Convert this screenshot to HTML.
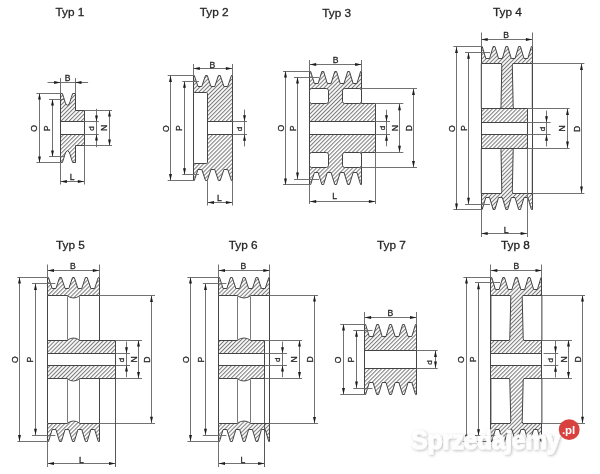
<!DOCTYPE html>
<html><head><meta charset="utf-8"><title>Pulleys</title>
<style>
html,body{margin:0;padding:0;background:#fff;width:600px;height:474px;overflow:hidden;}
svg{display:block;font-family:"Liberation Sans",sans-serif;filter:blur(0.35px);}
</style></head><body>
<svg width="600" height="474" viewBox="0 0 600 474" font-family="Liberation Sans, sans-serif">
<defs>
<pattern id="h" patternUnits="userSpaceOnUse" width="2.85" height="2.85" patternTransform="rotate(45)">
<rect width="2.85" height="2.85" fill="#fff"/>
<line x1="0.5" y1="0" x2="0.5" y2="2.85" stroke="#7c7c7c" stroke-width="1.12"/>
</pattern>
<filter id="sh" x="-10%" y="-30%" width="120%" height="160%">
<feGaussianBlur in="SourceAlpha" stdDeviation="1.4"/>
<feOffset dx="0.6" dy="1.3" result="b"/>
<feFlood flood-color="#000" flood-opacity="0.3"/>
<feComposite in2="b" operator="in"/>
<feMerge><feMergeNode/><feMergeNode in="SourceGraphic"/></feMerge>
</filter>
</defs>
<rect width="600" height="474" fill="#fff"/>
<path d="M60.5 93.5 L62.4 93.5 L63.7 97.5 L64.9 101.6 L66 104.3 L67.5 105.3 L69 104.3 L70.1 101.6 L71.3 97.5 L72.7 93.5 L75.5 93.5 L75.5 110.5 L84.5 110.5 L84.5 145.5 L75.5 145.5 L75.5 162.5 L72.7 162.5 L71.3 158.5 L70.1 154.4 L69 151.7 L67.5 150.7 L66 151.7 L64.9 154.4 L63.7 158.5 L62.4 162.5 L60.5 162.5 Z" fill="url(#h)" stroke="#444444" stroke-width="1.0" stroke-linejoin="round" />
<rect x="60.5" y="121.5" width="24" height="13" rx="0" fill="#fff" stroke="#444444" stroke-width="1.0"/>
<line x1="60.5" y1="78" x2="60.5" y2="93" stroke="#6a6a6a" stroke-width="0.95"/>
<line x1="75.5" y1="78" x2="75.5" y2="93" stroke="#6a6a6a" stroke-width="0.95"/>
<line x1="47.5" y1="82.5" x2="88.1" y2="82.5" stroke="#6a6a6a" stroke-width="0.95"/>
<path d="M60.5 82.5 L54.1 81.05 L54.1 83.95 Z" fill="#1c1c1c"/>
<path d="M75.1 82.5 L81.5 81.05 L81.5 83.95 Z" fill="#1c1c1c"/>
<line x1="36.4" y1="93.5" x2="60.5" y2="93.5" stroke="#6a6a6a" stroke-width="0.95"/>
<line x1="36.4" y1="162.5" x2="60.5" y2="162.5" stroke="#6a6a6a" stroke-width="0.95"/>
<line x1="39.5" y1="93.2" x2="39.5" y2="162.8" stroke="#6a6a6a" stroke-width="0.95"/>
<path d="M39.5 93.2 L38.05 99.6 L40.95 99.6 Z" fill="#1c1c1c"/>
<path d="M39.5 162.8 L38.05 156.4 L40.95 156.4 Z" fill="#1c1c1c"/>
<line x1="49" y1="99.5" x2="64" y2="99.5" stroke="#6a6a6a" stroke-width="0.95"/>
<line x1="49" y1="156.5" x2="64" y2="156.5" stroke="#6a6a6a" stroke-width="0.95"/>
<line x1="52.5" y1="99.2" x2="52.5" y2="156.8" stroke="#6a6a6a" stroke-width="0.95"/>
<path d="M52.5 99.2 L51.05 105.6 L53.95 105.6 Z" fill="#1c1c1c"/>
<path d="M52.5 156.8 L51.05 150.4 L53.95 150.4 Z" fill="#1c1c1c"/>
<line x1="84.2" y1="121.5" x2="98.8" y2="121.5" stroke="#6a6a6a" stroke-width="0.95"/>
<line x1="84.2" y1="134.5" x2="98.8" y2="134.5" stroke="#6a6a6a" stroke-width="0.95"/>
<line x1="96.5" y1="108.8" x2="96.5" y2="147.2" stroke="#6a6a6a" stroke-width="0.95"/>
<path d="M96.5 121.8 L95.05 115.4 L97.95 115.4 Z" fill="#1c1c1c"/>
<path d="M96.5 134.2 L95.05 140.6 L97.95 140.6 Z" fill="#1c1c1c"/>
<line x1="84.2" y1="110.5" x2="112" y2="110.5" stroke="#6a6a6a" stroke-width="0.95"/>
<line x1="84.2" y1="145.5" x2="112" y2="145.5" stroke="#6a6a6a" stroke-width="0.95"/>
<line x1="109.5" y1="110.2" x2="109.5" y2="145.8" stroke="#6a6a6a" stroke-width="0.95"/>
<path d="M109.5 110.2 L108.05 116.6 L110.95 116.6 Z" fill="#1c1c1c"/>
<path d="M109.5 145.8 L108.05 139.4 L110.95 139.4 Z" fill="#1c1c1c"/>
<line x1="60.5" y1="163" x2="60.5" y2="184.5" stroke="#6a6a6a" stroke-width="0.95"/>
<line x1="84.5" y1="146" x2="84.5" y2="184.5" stroke="#6a6a6a" stroke-width="0.95"/>
<line x1="60.5" y1="181.5" x2="84.2" y2="181.5" stroke="#6a6a6a" stroke-width="0.95"/>
<path d="M60.5 181.5 L66.9 180.05 L66.9 182.95 Z" fill="#1c1c1c"/>
<path d="M84.2 181.5 L77.8 180.05 L77.8 182.95 Z" fill="#1c1c1c"/>
<path d="M193.5 75.5 L194.3 75.5 L197.98 86.5 L201.78 86.5 L205.47 75.5 L207.27 75.5 L210.95 86.5 L214.75 86.5 L218.43 75.5 L220.23 75.5 L223.92 86.5 L227.72 86.5 L231.4 75.5 L232.5 75.5 L232.5 180.5 L231.4 180.5 L227.72 169.5 L223.92 169.5 L220.23 180.5 L218.43 180.5 L214.75 169.5 L210.95 169.5 L207.27 180.5 L205.47 180.5 L201.78 169.5 L197.98 169.5 L194.3 180.5 L193.5 180.5 Z" fill="url(#h)" stroke="#444444" stroke-width="1.0" stroke-linejoin="round" />
<rect x="193.5" y="92.5" width="14" height="71" rx="1.2" fill="#fff" stroke="#444444" stroke-width="1.0"/>
<rect x="207.5" y="121.5" width="25" height="13" rx="0" fill="#fff" stroke="#444444" stroke-width="1.0"/>
<line x1="193.5" y1="64" x2="193.5" y2="75.8" stroke="#6a6a6a" stroke-width="0.95"/>
<line x1="232.5" y1="64" x2="232.5" y2="75.8" stroke="#6a6a6a" stroke-width="0.95"/>
<line x1="193.4" y1="68.5" x2="232.3" y2="68.5" stroke="#6a6a6a" stroke-width="0.95"/>
<path d="M193.4 68.5 L199.8 67.05 L199.8 69.95 Z" fill="#1c1c1c"/>
<path d="M232.3 68.5 L225.9 67.05 L225.9 69.95 Z" fill="#1c1c1c"/>
<line x1="167.7" y1="75.5" x2="193.4" y2="75.5" stroke="#6a6a6a" stroke-width="0.95"/>
<line x1="167.7" y1="180.5" x2="193.4" y2="180.5" stroke="#6a6a6a" stroke-width="0.95"/>
<line x1="170.5" y1="75.5" x2="170.5" y2="180.5" stroke="#6a6a6a" stroke-width="0.95"/>
<path d="M170.5 75.5 L169.05 81.9 L171.95 81.9 Z" fill="#1c1c1c"/>
<path d="M170.5 180.5 L169.05 174.1 L171.95 174.1 Z" fill="#1c1c1c"/>
<line x1="182.4" y1="81.5" x2="199" y2="81.5" stroke="#6a6a6a" stroke-width="0.95"/>
<line x1="182.4" y1="174.5" x2="199" y2="174.5" stroke="#6a6a6a" stroke-width="0.95"/>
<line x1="184.5" y1="81.3" x2="184.5" y2="174.7" stroke="#6a6a6a" stroke-width="0.95"/>
<path d="M184.5 81.3 L183.05 87.7 L185.95 87.7 Z" fill="#1c1c1c"/>
<path d="M184.5 174.7 L183.05 168.3 L185.95 168.3 Z" fill="#1c1c1c"/>
<line x1="232.3" y1="121.5" x2="247" y2="121.5" stroke="#6a6a6a" stroke-width="0.95"/>
<line x1="232.3" y1="134.5" x2="247" y2="134.5" stroke="#6a6a6a" stroke-width="0.95"/>
<line x1="244.5" y1="109.6" x2="244.5" y2="146.4" stroke="#6a6a6a" stroke-width="0.95"/>
<path d="M244.5 121.6 L243.05 115.2 L245.95 115.2 Z" fill="#1c1c1c"/>
<path d="M244.5 134.4 L243.05 140.8 L245.95 140.8 Z" fill="#1c1c1c"/>
<line x1="207.5" y1="180.5" x2="207.5" y2="205.5" stroke="#6a6a6a" stroke-width="0.95"/>
<line x1="232.5" y1="180.5" x2="232.5" y2="205.5" stroke="#6a6a6a" stroke-width="0.95"/>
<line x1="207.6" y1="202.5" x2="232.3" y2="202.5" stroke="#6a6a6a" stroke-width="0.95"/>
<path d="M207.6 202.5 L214 201.05 L214 203.95 Z" fill="#1c1c1c"/>
<path d="M232.3 202.5 L225.9 201.05 L225.9 203.95 Z" fill="#1c1c1c"/>
<path d="M309.5 71.5 L310.7 71.5 L314.36 83.5 L318.16 83.5 L321.82 71.5 L323.62 71.5 L327.29 83.5 L331.09 83.5 L334.75 71.5 L336.55 71.5 L340.21 83.5 L344.01 83.5 L347.68 71.5 L349.48 71.5 L353.14 83.5 L356.94 83.5 L360.6 71.5 L361.5 71.5 L361.5 103.5 L375.5 103.5 L375.5 152.5 L361.5 152.5 L361.5 184.5 L360.6 184.5 L356.94 172.5 L353.14 172.5 L349.48 184.5 L347.68 184.5 L344.01 172.5 L340.21 172.5 L336.55 184.5 L334.75 184.5 L331.09 172.5 L327.29 172.5 L323.62 184.5 L321.82 184.5 L318.16 172.5 L314.36 172.5 L310.7 184.5 L309.5 184.5 Z" fill="url(#h)" stroke="#444444" stroke-width="1.0" stroke-linejoin="round" />
<rect x="309.5" y="88.5" width="19" height="15" rx="2.2" fill="#fff" stroke="#444444" stroke-width="1.0"/>
<rect x="309.5" y="152.5" width="19" height="15" rx="2.2" fill="#fff" stroke="#444444" stroke-width="1.0"/>
<rect x="342.5" y="88.5" width="19" height="15" rx="2.2" fill="#fff" stroke="#444444" stroke-width="1.0"/>
<rect x="342.5" y="152.5" width="19" height="15" rx="2.2" fill="#fff" stroke="#444444" stroke-width="1.0"/>
<rect x="309.5" y="121.5" width="66" height="13" rx="0" fill="#fff" stroke="#444444" stroke-width="1.0"/>
<line x1="309.5" y1="60" x2="309.5" y2="71" stroke="#6a6a6a" stroke-width="0.95"/>
<line x1="361.5" y1="60" x2="361.5" y2="71" stroke="#6a6a6a" stroke-width="0.95"/>
<line x1="309.8" y1="64.5" x2="361.5" y2="64.5" stroke="#6a6a6a" stroke-width="0.95"/>
<path d="M309.8 64.5 L316.2 63.05 L316.2 65.95 Z" fill="#1c1c1c"/>
<path d="M361.5 64.5 L355.1 63.05 L355.1 65.95 Z" fill="#1c1c1c"/>
<line x1="283" y1="71.5" x2="309.8" y2="71.5" stroke="#6a6a6a" stroke-width="0.95"/>
<line x1="283" y1="184.5" x2="309.8" y2="184.5" stroke="#6a6a6a" stroke-width="0.95"/>
<line x1="285.5" y1="71.1" x2="285.5" y2="184.9" stroke="#6a6a6a" stroke-width="0.95"/>
<path d="M285.5 71.1 L284.05 77.5 L286.95 77.5 Z" fill="#1c1c1c"/>
<path d="M285.5 184.9 L284.05 178.5 L286.95 178.5 Z" fill="#1c1c1c"/>
<line x1="294" y1="77.5" x2="319" y2="77.5" stroke="#6a6a6a" stroke-width="0.95"/>
<line x1="294" y1="179.5" x2="319" y2="179.5" stroke="#6a6a6a" stroke-width="0.95"/>
<line x1="297.5" y1="77" x2="297.5" y2="179" stroke="#6a6a6a" stroke-width="0.95"/>
<path d="M297.5 77 L296.05 83.4 L298.95 83.4 Z" fill="#1c1c1c"/>
<path d="M297.5 179 L296.05 172.6 L298.95 172.6 Z" fill="#1c1c1c"/>
<line x1="361.5" y1="88.5" x2="417" y2="88.5" stroke="#6a6a6a" stroke-width="0.95"/>
<line x1="361.5" y1="167.5" x2="417" y2="167.5" stroke="#6a6a6a" stroke-width="0.95"/>
<line x1="413.5" y1="88.6" x2="413.5" y2="167.4" stroke="#6a6a6a" stroke-width="0.95"/>
<path d="M413.5 88.6 L412.05 95 L414.95 95 Z" fill="#1c1c1c"/>
<path d="M413.5 167.4 L412.05 161 L414.95 161 Z" fill="#1c1c1c"/>
<line x1="375.3" y1="103.5" x2="403.3" y2="103.5" stroke="#6a6a6a" stroke-width="0.95"/>
<line x1="375.3" y1="152.5" x2="403.3" y2="152.5" stroke="#6a6a6a" stroke-width="0.95"/>
<line x1="399.5" y1="103.8" x2="399.5" y2="152.2" stroke="#6a6a6a" stroke-width="0.95"/>
<path d="M399.5 103.8 L398.05 110.2 L400.95 110.2 Z" fill="#1c1c1c"/>
<path d="M399.5 152.2 L398.05 145.8 L400.95 145.8 Z" fill="#1c1c1c"/>
<line x1="375.3" y1="121.5" x2="390" y2="121.5" stroke="#6a6a6a" stroke-width="0.95"/>
<line x1="375.3" y1="134.5" x2="390" y2="134.5" stroke="#6a6a6a" stroke-width="0.95"/>
<line x1="386.5" y1="109.7" x2="386.5" y2="146.3" stroke="#6a6a6a" stroke-width="0.95"/>
<path d="M386.5 121.7 L385.05 115.3 L387.95 115.3 Z" fill="#1c1c1c"/>
<path d="M386.5 134.3 L385.05 140.7 L387.95 140.7 Z" fill="#1c1c1c"/>
<line x1="309.5" y1="185" x2="309.5" y2="204" stroke="#6a6a6a" stroke-width="0.95"/>
<line x1="375.5" y1="152.2" x2="375.5" y2="204" stroke="#6a6a6a" stroke-width="0.95"/>
<line x1="309.8" y1="201.5" x2="375.3" y2="201.5" stroke="#6a6a6a" stroke-width="0.95"/>
<path d="M309.8 201.5 L316.2 200.05 L316.2 202.95 Z" fill="#1c1c1c"/>
<path d="M375.3 201.5 L368.9 200.05 L368.9 202.95 Z" fill="#1c1c1c"/>
<path d="M481.5 46.5 L482.2 46.5 L485.78 58.5 L489.57 58.5 L493.15 46.5 L494.95 46.5 L498.53 58.5 L502.32 58.5 L505.9 46.5 L507.7 46.5 L511.27 58.5 L515.07 58.5 L518.65 46.5 L520.45 46.5 L524.02 58.5 L527.82 58.5 L531.4 46.5 L532.5 46.5 L532.5 209.5 L531.4 209.5 L527.82 197.5 L524.02 197.5 L520.45 209.5 L518.65 209.5 L515.07 197.5 L511.27 197.5 L507.7 209.5 L505.9 209.5 L502.32 197.5 L498.53 197.5 L494.95 209.5 L493.15 209.5 L489.57 197.5 L485.78 197.5 L482.2 209.5 L481.5 209.5 Z" fill="url(#h)" stroke="#444444" stroke-width="1.0" stroke-linejoin="round" />
<path d="M481.3 63.5 L501.2 63.5 L501.8 65.2 L501 107 L500.4 108.5 L481.3 108.5 Z" fill="#fff" stroke="#444444" stroke-width="1" stroke-linejoin="round"/>
<path d="M512.9 63.5 L532.3 63.5 L532.3 108.5 L513.8 108.5 L513.2 107 L512.3 65.2 Z" fill="#fff" stroke="#444444" stroke-width="1" stroke-linejoin="round"/>
<path d="M481.3 193.5 L501.2 193.5 L501.8 191.4 L501 149.6 L500.4 148.5 L481.3 148.5 Z" fill="#fff" stroke="#444444" stroke-width="1" stroke-linejoin="round"/>
<path d="M512.9 193.5 L532.3 193.5 L532.3 148.5 L513.8 148.5 L513.2 149.6 L512.3 191.4 Z" fill="#fff" stroke="#444444" stroke-width="1" stroke-linejoin="round"/>
<rect x="527.5" y="108.5" width="5" height="40" rx="0" fill="#fff" stroke="none" stroke-width="1.0"/>
<line x1="532.5" y1="63.6" x2="532.5" y2="193" stroke="#444444" stroke-width="1.0"/>
<line x1="527.5" y1="108.6" x2="527.5" y2="148" stroke="#444444" stroke-width="1.0"/>
<line x1="481.3" y1="108.5" x2="527" y2="108.5" stroke="#444444" stroke-width="1.0"/>
<line x1="481.3" y1="148.5" x2="527" y2="148.5" stroke="#444444" stroke-width="1.0"/>
<rect x="481.5" y="122.5" width="46" height="12" rx="0" fill="#fff" stroke="#444444" stroke-width="1.0"/>
<line x1="481.5" y1="32.5" x2="481.5" y2="46.7" stroke="#6a6a6a" stroke-width="0.95"/>
<line x1="532.5" y1="32.5" x2="532.5" y2="46.7" stroke="#6a6a6a" stroke-width="0.95"/>
<line x1="481.3" y1="39.5" x2="532.3" y2="39.5" stroke="#6a6a6a" stroke-width="0.95"/>
<path d="M481.3 39.5 L487.7 38.05 L487.7 40.95 Z" fill="#1c1c1c"/>
<path d="M532.3 39.5 L525.9 38.05 L525.9 40.95 Z" fill="#1c1c1c"/>
<line x1="453.4" y1="46.5" x2="481.3" y2="46.5" stroke="#6a6a6a" stroke-width="0.95"/>
<line x1="453.4" y1="209.5" x2="481.3" y2="209.5" stroke="#6a6a6a" stroke-width="0.95"/>
<line x1="456.5" y1="46.7" x2="456.5" y2="209.9" stroke="#6a6a6a" stroke-width="0.95"/>
<path d="M456.5 46.7 L455.05 53.1 L457.95 53.1 Z" fill="#1c1c1c"/>
<path d="M456.5 209.9 L455.05 203.5 L457.95 203.5 Z" fill="#1c1c1c"/>
<line x1="465" y1="52.5" x2="490" y2="52.5" stroke="#6a6a6a" stroke-width="0.95"/>
<line x1="465" y1="204.5" x2="490" y2="204.5" stroke="#6a6a6a" stroke-width="0.95"/>
<line x1="468.5" y1="52.4" x2="468.5" y2="204.2" stroke="#6a6a6a" stroke-width="0.95"/>
<path d="M468.5 52.4 L467.05 58.8 L469.95 58.8 Z" fill="#1c1c1c"/>
<path d="M468.5 204.2 L467.05 197.8 L469.95 197.8 Z" fill="#1c1c1c"/>
<line x1="532.3" y1="63.5" x2="584.4" y2="63.5" stroke="#6a6a6a" stroke-width="0.95"/>
<line x1="532.3" y1="193.5" x2="584.4" y2="193.5" stroke="#6a6a6a" stroke-width="0.95"/>
<line x1="581.5" y1="63.6" x2="581.5" y2="193" stroke="#6a6a6a" stroke-width="0.95"/>
<path d="M581.5 63.6 L580.05 70 L582.95 70 Z" fill="#1c1c1c"/>
<path d="M581.5 193 L580.05 186.6 L582.95 186.6 Z" fill="#1c1c1c"/>
<line x1="527" y1="108.5" x2="569.6" y2="108.5" stroke="#6a6a6a" stroke-width="0.95"/>
<line x1="527" y1="148.5" x2="569.6" y2="148.5" stroke="#6a6a6a" stroke-width="0.95"/>
<line x1="567.5" y1="108.6" x2="567.5" y2="148" stroke="#6a6a6a" stroke-width="0.95"/>
<path d="M567.5 108.6 L566.05 115 L568.95 115 Z" fill="#1c1c1c"/>
<path d="M567.5 148 L566.05 141.6 L568.95 141.6 Z" fill="#1c1c1c"/>
<line x1="527" y1="122.5" x2="550.6" y2="122.5" stroke="#6a6a6a" stroke-width="0.95"/>
<line x1="527" y1="134.5" x2="550.6" y2="134.5" stroke="#6a6a6a" stroke-width="0.95"/>
<line x1="546.5" y1="110.6" x2="546.5" y2="146.4" stroke="#6a6a6a" stroke-width="0.95"/>
<path d="M546.5 122.6 L545.05 116.2 L547.95 116.2 Z" fill="#1c1c1c"/>
<path d="M546.5 134.4 L545.05 140.8 L547.95 140.8 Z" fill="#1c1c1c"/>
<line x1="481.5" y1="209.5" x2="481.5" y2="237" stroke="#6a6a6a" stroke-width="0.95"/>
<line x1="527.5" y1="148" x2="527.5" y2="237" stroke="#6a6a6a" stroke-width="0.95"/>
<line x1="481.3" y1="233.5" x2="527" y2="233.5" stroke="#6a6a6a" stroke-width="0.95"/>
<path d="M481.3 233.5 L487.7 232.05 L487.7 234.95 Z" fill="#1c1c1c"/>
<path d="M527 233.5 L520.6 232.05 L520.6 234.95 Z" fill="#1c1c1c"/>
<line x1="47.5" y1="295.5" x2="47.5" y2="423.1" stroke="#444444" stroke-width="1.0"/>
<line x1="99.5" y1="295.5" x2="99.5" y2="423.1" stroke="#444444" stroke-width="1.0"/>
<path d="M47.5 277.5 L48.5 277.5 L52.15 288.5 L55.95 288.5 L59.6 277.5 L61.4 277.5 L65.05 288.5 L68.85 288.5 L72.5 277.5 L74.3 277.5 L77.95 288.5 L81.75 288.5 L85.4 277.5 L87.2 277.5 L90.85 288.5 L94.65 288.5 L98.3 277.5 L99.5 277.5 L99.5 295.5 L47.5 295.5 Z" fill="url(#h)" stroke="#444444" stroke-width="1.0" stroke-linejoin="round" />
<path d="M47.5 441.5 L48.5 441.5 L52.15 429.5 L55.95 429.5 L59.6 441.5 L61.4 441.5 L65.05 429.5 L68.85 429.5 L72.5 441.5 L74.3 441.5 L77.95 429.5 L81.75 429.5 L85.4 441.5 L87.2 441.5 L90.85 429.5 L94.65 429.5 L98.3 441.5 L99.5 441.5 L99.5 423.5 L47.5 423.5 Z" fill="url(#h)" stroke="#444444" stroke-width="1.0" stroke-linejoin="round" />
<path d="M47.5 340.5 L115.5 340.5 L115.5 378.5 L47.5 378.5 Z" fill="url(#h)" stroke="#444444" stroke-width="1.0" stroke-linejoin="round" />
<rect x="47.5" y="353.5" width="68" height="12" rx="0" fill="#fff" stroke="#444444" stroke-width="1.0"/>
<line x1="67.5" y1="296.5" x2="67.5" y2="339.5" stroke="#6a6a6a" stroke-width="0.9"/>
<line x1="79.5" y1="296.5" x2="79.5" y2="339.5" stroke="#6a6a6a" stroke-width="0.9"/>
<path d="M66.9 294.9 L66.9 295.5 Q73.5 300.5 80.1 295.5 L80.1 294.9 Z" fill="url(#h)" stroke="none"/>
<path d="M66.9 295.5 Q73.5 300.5 80.1 295.5" fill="none" stroke="#444444" stroke-width="0.95"/>
<path d="M66.9 341.1 L66.9 340.5 Q73.5 335.5 80.1 340.5 L80.1 341.1 Z" fill="url(#h)" stroke="none"/>
<path d="M66.9 340.5 Q73.5 335.5 80.1 340.5" fill="none" stroke="#444444" stroke-width="0.95"/>
<line x1="67.5" y1="379.5" x2="67.5" y2="422.5" stroke="#6a6a6a" stroke-width="0.9"/>
<line x1="79.5" y1="379.5" x2="79.5" y2="422.5" stroke="#6a6a6a" stroke-width="0.9"/>
<path d="M66.9 377.9 L66.9 378.5 Q73.5 383.5 80.1 378.5 L80.1 377.9 Z" fill="url(#h)" stroke="none"/>
<path d="M66.9 378.5 Q73.5 383.5 80.1 378.5" fill="none" stroke="#444444" stroke-width="0.95"/>
<path d="M66.9 424.1 L66.9 423.5 Q73.5 418.5 80.1 423.5 L80.1 424.1 Z" fill="url(#h)" stroke="none"/>
<path d="M66.9 423.5 Q73.5 418.5 80.1 423.5" fill="none" stroke="#444444" stroke-width="0.95"/>
<line x1="47.5" y1="264.5" x2="47.5" y2="277.2" stroke="#6a6a6a" stroke-width="0.95"/>
<line x1="99.5" y1="264.5" x2="99.5" y2="277.2" stroke="#6a6a6a" stroke-width="0.95"/>
<line x1="47.6" y1="270.5" x2="99.2" y2="270.5" stroke="#6a6a6a" stroke-width="0.95"/>
<path d="M47.6 270.5 L54 269.05 L54 271.95 Z" fill="#1c1c1c"/>
<path d="M99.2 270.5 L92.8 269.05 L92.8 271.95 Z" fill="#1c1c1c"/>
<line x1="17.4" y1="277.5" x2="47.6" y2="277.5" stroke="#6a6a6a" stroke-width="0.95"/>
<line x1="17.4" y1="441.5" x2="47.6" y2="441.5" stroke="#6a6a6a" stroke-width="0.95"/>
<line x1="19.5" y1="277.2" x2="19.5" y2="441.4" stroke="#6a6a6a" stroke-width="0.95"/>
<path d="M19.5 277.2 L18.05 283.6 L20.95 283.6 Z" fill="#1c1c1c"/>
<path d="M19.5 441.4 L18.05 435 L20.95 435 Z" fill="#1c1c1c"/>
<line x1="32" y1="283.5" x2="55.4" y2="283.5" stroke="#6a6a6a" stroke-width="0.95"/>
<line x1="32" y1="435.5" x2="55.4" y2="435.5" stroke="#6a6a6a" stroke-width="0.95"/>
<line x1="35.5" y1="283.5" x2="35.5" y2="435.1" stroke="#6a6a6a" stroke-width="0.95"/>
<path d="M35.5 283.5 L34.05 289.9 L36.95 289.9 Z" fill="#1c1c1c"/>
<path d="M35.5 435.1 L34.05 428.7 L36.95 428.7 Z" fill="#1c1c1c"/>
<line x1="99.2" y1="295.5" x2="155" y2="295.5" stroke="#6a6a6a" stroke-width="0.95"/>
<line x1="99.2" y1="423.5" x2="155" y2="423.5" stroke="#6a6a6a" stroke-width="0.95"/>
<line x1="151.5" y1="295.5" x2="151.5" y2="423.1" stroke="#6a6a6a" stroke-width="0.95"/>
<path d="M151.5 295.5 L150.05 301.9 L152.95 301.9 Z" fill="#1c1c1c"/>
<path d="M151.5 423.1 L150.05 416.7 L152.95 416.7 Z" fill="#1c1c1c"/>
<line x1="115.4" y1="340.5" x2="142" y2="340.5" stroke="#6a6a6a" stroke-width="0.95"/>
<line x1="115.4" y1="378.5" x2="142" y2="378.5" stroke="#6a6a6a" stroke-width="0.95"/>
<line x1="138.5" y1="340.2" x2="138.5" y2="378.4" stroke="#6a6a6a" stroke-width="0.95"/>
<path d="M138.5 340.2 L137.05 346.6 L139.95 346.6 Z" fill="#1c1c1c"/>
<path d="M138.5 378.4 L137.05 372 L139.95 372 Z" fill="#1c1c1c"/>
<line x1="115.4" y1="353.5" x2="130" y2="353.5" stroke="#6a6a6a" stroke-width="0.95"/>
<line x1="115.4" y1="365.5" x2="130" y2="365.5" stroke="#6a6a6a" stroke-width="0.95"/>
<line x1="126.5" y1="341.6" x2="126.5" y2="377.2" stroke="#6a6a6a" stroke-width="0.95"/>
<path d="M126.5 353.6 L125.05 347.2 L127.95 347.2 Z" fill="#1c1c1c"/>
<path d="M126.5 365.2 L125.05 371.6 L127.95 371.6 Z" fill="#1c1c1c"/>
<line x1="47.5" y1="440.5" x2="47.5" y2="467" stroke="#6a6a6a" stroke-width="0.95"/>
<line x1="115.5" y1="378.4" x2="115.5" y2="467" stroke="#444444" stroke-width="0.9"/>
<line x1="47.6" y1="463.5" x2="115.4" y2="463.5" stroke="#6a6a6a" stroke-width="0.95"/>
<path d="M47.6 463.5 L54 462.05 L54 464.95 Z" fill="#1c1c1c"/>
<path d="M115.4 463.5 L109 462.05 L109 464.95 Z" fill="#1c1c1c"/>
<line x1="218.5" y1="295.2" x2="218.5" y2="423.4" stroke="#444444" stroke-width="1.0"/>
<line x1="269.5" y1="295.2" x2="269.5" y2="423.4" stroke="#444444" stroke-width="1.0"/>
<path d="M218.5 277.5 L219.5 277.5 L223.09 288.5 L226.89 288.5 L230.47 277.5 L232.28 277.5 L235.86 288.5 L239.66 288.5 L243.25 277.5 L245.05 277.5 L248.64 288.5 L252.44 288.5 L256.03 277.5 L257.82 277.5 L261.41 288.5 L265.21 288.5 L268.8 277.5 L269.5 277.5 L269.5 295.5 L218.5 295.5 Z" fill="url(#h)" stroke="#444444" stroke-width="1.0" stroke-linejoin="round" />
<path d="M218.5 441.5 L219.5 441.5 L223.09 429.5 L226.89 429.5 L230.47 441.5 L232.28 441.5 L235.86 429.5 L239.66 429.5 L243.25 441.5 L245.05 441.5 L248.64 429.5 L252.44 429.5 L256.03 441.5 L257.82 441.5 L261.41 429.5 L265.21 429.5 L268.8 441.5 L269.5 441.5 L269.5 423.5 L218.5 423.5 Z" fill="url(#h)" stroke="#444444" stroke-width="1.0" stroke-linejoin="round" />
<path d="M218.5 340.5 L264.5 340.5 L264.5 378.5 L218.5 378.5 Z" fill="url(#h)" stroke="#444444" stroke-width="1.0" stroke-linejoin="round" />
<rect x="218.5" y="353.5" width="46" height="12" rx="0" fill="#fff" stroke="#444444" stroke-width="1.0"/>
<line x1="237.5" y1="296.5" x2="237.5" y2="339.5" stroke="#6a6a6a" stroke-width="0.9"/>
<line x1="250.5" y1="296.5" x2="250.5" y2="339.5" stroke="#6a6a6a" stroke-width="0.9"/>
<path d="M236.9 294.9 L236.9 295.5 Q244 300.5 251.1 295.5 L251.1 294.9 Z" fill="url(#h)" stroke="none"/>
<path d="M236.9 295.5 Q244 300.5 251.1 295.5" fill="none" stroke="#444444" stroke-width="0.95"/>
<path d="M236.9 341.1 L236.9 340.5 Q244 335.5 251.1 340.5 L251.1 341.1 Z" fill="url(#h)" stroke="none"/>
<path d="M236.9 340.5 Q244 335.5 251.1 340.5" fill="none" stroke="#444444" stroke-width="0.95"/>
<line x1="237.5" y1="379.5" x2="237.5" y2="422.5" stroke="#6a6a6a" stroke-width="0.9"/>
<line x1="250.5" y1="379.5" x2="250.5" y2="422.5" stroke="#6a6a6a" stroke-width="0.9"/>
<path d="M236.9 377.9 L236.9 378.5 Q244 383.5 251.1 378.5 L251.1 377.9 Z" fill="url(#h)" stroke="none"/>
<path d="M236.9 378.5 Q244 383.5 251.1 378.5" fill="none" stroke="#444444" stroke-width="0.95"/>
<path d="M236.9 424.1 L236.9 423.5 Q244 418.5 251.1 423.5 L251.1 424.1 Z" fill="url(#h)" stroke="none"/>
<path d="M236.9 423.5 Q244 418.5 251.1 423.5" fill="none" stroke="#444444" stroke-width="0.95"/>
<line x1="218.5" y1="264.5" x2="218.5" y2="277.2" stroke="#6a6a6a" stroke-width="0.95"/>
<line x1="269.5" y1="264.5" x2="269.5" y2="277.2" stroke="#6a6a6a" stroke-width="0.95"/>
<line x1="218.6" y1="270.5" x2="269.7" y2="270.5" stroke="#6a6a6a" stroke-width="0.95"/>
<path d="M218.6 270.5 L225 269.05 L225 271.95 Z" fill="#1c1c1c"/>
<path d="M269.7 270.5 L263.3 269.05 L263.3 271.95 Z" fill="#1c1c1c"/>
<line x1="187.4" y1="277.5" x2="218.6" y2="277.5" stroke="#6a6a6a" stroke-width="0.95"/>
<line x1="187.4" y1="441.5" x2="218.6" y2="441.5" stroke="#6a6a6a" stroke-width="0.95"/>
<line x1="190.5" y1="277.2" x2="190.5" y2="441.4" stroke="#6a6a6a" stroke-width="0.95"/>
<path d="M190.5 277.2 L189.05 283.6 L191.95 283.6 Z" fill="#1c1c1c"/>
<path d="M190.5 441.4 L189.05 435 L191.95 435 Z" fill="#1c1c1c"/>
<line x1="202.8" y1="283.5" x2="226.4" y2="283.5" stroke="#6a6a6a" stroke-width="0.95"/>
<line x1="202.8" y1="435.5" x2="226.4" y2="435.5" stroke="#6a6a6a" stroke-width="0.95"/>
<line x1="205.5" y1="283.5" x2="205.5" y2="435.1" stroke="#6a6a6a" stroke-width="0.95"/>
<path d="M205.5 283.5 L204.05 289.9 L206.95 289.9 Z" fill="#1c1c1c"/>
<path d="M205.5 435.1 L204.05 428.7 L206.95 428.7 Z" fill="#1c1c1c"/>
<line x1="269.7" y1="295.5" x2="318" y2="295.5" stroke="#6a6a6a" stroke-width="0.95"/>
<line x1="269.7" y1="423.5" x2="318" y2="423.5" stroke="#6a6a6a" stroke-width="0.95"/>
<line x1="314.5" y1="295.2" x2="314.5" y2="423.4" stroke="#6a6a6a" stroke-width="0.95"/>
<path d="M314.5 295.2 L313.05 301.6 L315.95 301.6 Z" fill="#1c1c1c"/>
<path d="M314.5 423.4 L313.05 417 L315.95 417 Z" fill="#1c1c1c"/>
<line x1="264.5" y1="340.5" x2="302" y2="340.5" stroke="#6a6a6a" stroke-width="0.95"/>
<line x1="264.5" y1="378.5" x2="302" y2="378.5" stroke="#6a6a6a" stroke-width="0.95"/>
<line x1="299.5" y1="340.2" x2="299.5" y2="378.4" stroke="#6a6a6a" stroke-width="0.95"/>
<path d="M299.5 340.2 L298.05 346.6 L300.95 346.6 Z" fill="#1c1c1c"/>
<path d="M299.5 378.4 L298.05 372 L300.95 372 Z" fill="#1c1c1c"/>
<line x1="264.5" y1="353.5" x2="287" y2="353.5" stroke="#6a6a6a" stroke-width="0.95"/>
<line x1="264.5" y1="365.5" x2="287" y2="365.5" stroke="#6a6a6a" stroke-width="0.95"/>
<line x1="282.5" y1="341.6" x2="282.5" y2="377.2" stroke="#6a6a6a" stroke-width="0.95"/>
<path d="M282.5 353.6 L281.05 347.2 L283.95 347.2 Z" fill="#1c1c1c"/>
<path d="M282.5 365.2 L281.05 371.6 L283.95 371.6 Z" fill="#1c1c1c"/>
<line x1="218.5" y1="440.5" x2="218.5" y2="467" stroke="#6a6a6a" stroke-width="0.95"/>
<line x1="264.5" y1="378.4" x2="264.5" y2="467" stroke="#444444" stroke-width="0.9"/>
<line x1="218.6" y1="463.5" x2="264.5" y2="463.5" stroke="#6a6a6a" stroke-width="0.95"/>
<path d="M218.6 463.5 L225 462.05 L225 464.95 Z" fill="#1c1c1c"/>
<path d="M264.5 463.5 L258.1 462.05 L258.1 464.95 Z" fill="#1c1c1c"/>
<path d="M364.5 324.5 L365.6 324.5 L369.26 336.5 L373.06 336.5 L376.72 324.5 L378.52 324.5 L382.19 336.5 L385.99 336.5 L389.65 324.5 L391.45 324.5 L395.11 336.5 L398.91 336.5 L402.57 324.5 L404.38 324.5 L408.04 336.5 L411.84 336.5 L415.5 324.5 L416.5 324.5 L416.5 394.5 L415.5 394.5 L411.84 382.5 L408.04 382.5 L404.38 394.5 L402.57 394.5 L398.91 382.5 L395.11 382.5 L391.45 394.5 L389.65 394.5 L385.99 382.5 L382.19 382.5 L378.52 394.5 L376.72 394.5 L373.06 382.5 L369.26 382.5 L365.6 394.5 L364.5 394.5 Z" fill="url(#h)" stroke="#444444" stroke-width="1.0" stroke-linejoin="round" />
<rect x="364.5" y="350.5" width="52" height="18" rx="0" fill="#fff" stroke="#444444" stroke-width="1.0"/>
<line x1="364.5" y1="312" x2="364.5" y2="324" stroke="#6a6a6a" stroke-width="0.95"/>
<line x1="416.5" y1="312" x2="416.5" y2="324" stroke="#6a6a6a" stroke-width="0.95"/>
<line x1="364.7" y1="317.5" x2="416.4" y2="317.5" stroke="#6a6a6a" stroke-width="0.95"/>
<path d="M364.7 317.5 L371.1 316.05 L371.1 318.95 Z" fill="#1c1c1c"/>
<path d="M416.4 317.5 L410 316.05 L410 318.95 Z" fill="#1c1c1c"/>
<line x1="340.3" y1="324.5" x2="364.7" y2="324.5" stroke="#6a6a6a" stroke-width="0.95"/>
<line x1="340.3" y1="394.5" x2="364.7" y2="394.5" stroke="#6a6a6a" stroke-width="0.95"/>
<line x1="343.5" y1="324" x2="343.5" y2="394.4" stroke="#6a6a6a" stroke-width="0.95"/>
<path d="M343.5 324 L342.05 330.4 L344.95 330.4 Z" fill="#1c1c1c"/>
<path d="M343.5 394.4 L342.05 388 L344.95 388 Z" fill="#1c1c1c"/>
<line x1="353.3" y1="330.5" x2="372.5" y2="330.5" stroke="#6a6a6a" stroke-width="0.95"/>
<line x1="353.3" y1="388.5" x2="372.5" y2="388.5" stroke="#6a6a6a" stroke-width="0.95"/>
<line x1="356.5" y1="330.4" x2="356.5" y2="388" stroke="#6a6a6a" stroke-width="0.95"/>
<path d="M356.5 330.4 L355.05 336.8 L357.95 336.8 Z" fill="#1c1c1c"/>
<path d="M356.5 388 L355.05 381.6 L357.95 381.6 Z" fill="#1c1c1c"/>
<line x1="416.4" y1="350.5" x2="437.7" y2="350.5" stroke="#6a6a6a" stroke-width="0.95"/>
<line x1="416.4" y1="368.5" x2="437.7" y2="368.5" stroke="#6a6a6a" stroke-width="0.95"/>
<line x1="435.5" y1="350.5" x2="435.5" y2="368" stroke="#6a6a6a" stroke-width="0.95"/>
<path d="M435.5 350.5 L434.05 356.9 L436.95 356.9 Z" fill="#1c1c1c"/>
<path d="M435.5 368 L434.05 361.6 L436.95 361.6 Z" fill="#1c1c1c"/>
<path d="M490.5 277.5 L491.8 277.5 L495.38 289.5 L499.17 289.5 L502.75 277.5 L504.55 277.5 L508.12 289.5 L511.92 289.5 L515.5 277.5 L517.3 277.5 L520.88 289.5 L524.67 289.5 L528.25 277.5 L530.05 277.5 L533.62 289.5 L537.42 289.5 L541 277.5 L541.5 277.5 L541.5 441.5 L541 441.5 L537.42 429.5 L533.62 429.5 L530.05 441.5 L528.25 441.5 L524.67 429.5 L520.88 429.5 L517.3 441.5 L515.5 441.5 L511.92 429.5 L508.12 429.5 L504.55 441.5 L502.75 441.5 L499.17 429.5 L495.38 429.5 L491.8 441.5 L490.5 441.5 Z" fill="url(#h)" stroke="#444444" stroke-width="1.0" stroke-linejoin="round" />
<path d="M490.9 295.5 L510.2 295.5 L510.8 296.8 L509.8 338.4 L509.2 340.5 L490.9 340.5 Z" fill="#fff" stroke="#444444" stroke-width="1" stroke-linejoin="round"/>
<path d="M522.8 295.5 L541.9 295.5 L541.9 340.5 L523.8 340.5 L523.2 338.4 L522.2 296.8 Z" fill="#fff" stroke="#444444" stroke-width="1" stroke-linejoin="round"/>
<path d="M490.9 423.5 L510.2 423.5 L510.8 421.6 L509.8 380 L509.2 378.5 L490.9 378.5 Z" fill="#fff" stroke="#444444" stroke-width="1" stroke-linejoin="round"/>
<path d="M522.8 423.5 L541.9 423.5 L541.9 378.5 L523.8 378.5 L523.2 380 L522.2 421.6 Z" fill="#fff" stroke="#444444" stroke-width="1" stroke-linejoin="round"/>
<rect x="490.5" y="353.5" width="51" height="12" rx="0" fill="#fff" stroke="#444444" stroke-width="1.0"/>
<line x1="490.5" y1="264.5" x2="490.5" y2="277.2" stroke="#6a6a6a" stroke-width="0.95"/>
<line x1="541.5" y1="264.5" x2="541.5" y2="277.2" stroke="#6a6a6a" stroke-width="0.95"/>
<line x1="490.9" y1="270.5" x2="541.9" y2="270.5" stroke="#6a6a6a" stroke-width="0.95"/>
<path d="M490.9 270.5 L497.3 269.05 L497.3 271.95 Z" fill="#1c1c1c"/>
<path d="M541.9 270.5 L535.5 269.05 L535.5 271.95 Z" fill="#1c1c1c"/>
<line x1="463.4" y1="277.5" x2="490.9" y2="277.5" stroke="#6a6a6a" stroke-width="0.95"/>
<line x1="463.4" y1="441.5" x2="490.9" y2="441.5" stroke="#6a6a6a" stroke-width="0.95"/>
<line x1="466.5" y1="277.2" x2="466.5" y2="441.2" stroke="#6a6a6a" stroke-width="0.95"/>
<path d="M466.5 277.2 L465.05 283.6 L467.95 283.6 Z" fill="#1c1c1c"/>
<path d="M466.5 441.2 L465.05 434.8 L467.95 434.8 Z" fill="#1c1c1c"/>
<line x1="475" y1="282.5" x2="500" y2="282.5" stroke="#6a6a6a" stroke-width="0.95"/>
<line x1="475" y1="435.5" x2="500" y2="435.5" stroke="#6a6a6a" stroke-width="0.95"/>
<line x1="478.5" y1="282.8" x2="478.5" y2="435.6" stroke="#6a6a6a" stroke-width="0.95"/>
<path d="M478.5 282.8 L477.05 289.2 L479.95 289.2 Z" fill="#1c1c1c"/>
<path d="M478.5 435.6 L477.05 429.2 L479.95 429.2 Z" fill="#1c1c1c"/>
<line x1="541.9" y1="295.5" x2="585" y2="295.5" stroke="#6a6a6a" stroke-width="0.95"/>
<line x1="541.9" y1="423.5" x2="585" y2="423.5" stroke="#6a6a6a" stroke-width="0.95"/>
<line x1="582.5" y1="295.2" x2="582.5" y2="423.2" stroke="#6a6a6a" stroke-width="0.95"/>
<path d="M582.5 295.2 L581.05 301.6 L583.95 301.6 Z" fill="#1c1c1c"/>
<path d="M582.5 423.2 L581.05 416.8 L583.95 416.8 Z" fill="#1c1c1c"/>
<line x1="541.9" y1="340.5" x2="572" y2="340.5" stroke="#6a6a6a" stroke-width="0.95"/>
<line x1="541.9" y1="378.5" x2="572" y2="378.5" stroke="#6a6a6a" stroke-width="0.95"/>
<line x1="568.5" y1="340" x2="568.5" y2="378.4" stroke="#6a6a6a" stroke-width="0.95"/>
<path d="M568.5 340 L567.05 346.4 L569.95 346.4 Z" fill="#1c1c1c"/>
<path d="M568.5 378.4 L567.05 372 L569.95 372 Z" fill="#1c1c1c"/>
<line x1="543.5" y1="353.5" x2="558.2" y2="353.5" stroke="#6a6a6a" stroke-width="0.95"/>
<line x1="543.5" y1="365.5" x2="558.2" y2="365.5" stroke="#6a6a6a" stroke-width="0.95"/>
<line x1="555.5" y1="341" x2="555.5" y2="377.4" stroke="#6a6a6a" stroke-width="0.95"/>
<path d="M555.5 353 L554.05 346.6 L556.95 346.6 Z" fill="#1c1c1c"/>
<path d="M555.5 365.4 L554.05 371.8 L556.95 371.8 Z" fill="#1c1c1c"/>
<g opacity="0.995" stroke="#262626" stroke-width="0.3"><text x="55.5" y="16" font-size="11.8" fill="#1e1e1e" stroke-width="0.3">Typ 1</text><text x="199.7" y="16" font-size="11.8" fill="#1e1e1e" stroke-width="0.3">Typ 2</text><text x="322.2" y="16.5" font-size="11.8" fill="#1e1e1e" stroke-width="0.3">Typ 3</text><text x="493" y="16" font-size="11.8" fill="#1e1e1e" stroke-width="0.3">Typ 4</text><text x="56" y="248.6" font-size="11.8" fill="#1e1e1e" stroke-width="0.3">Typ 5</text><text x="228.8" y="248.5" font-size="11.8" fill="#1e1e1e" stroke-width="0.3">Typ 6</text><text x="377" y="248.7" font-size="11.8" fill="#1e1e1e" stroke-width="0.3">Typ 7</text><text x="501" y="248.8" font-size="11.8" fill="#1e1e1e" stroke-width="0.3">Typ 8</text><text x="67.6" y="77.8" font-size="8.6" text-anchor="middle" dominant-baseline="central" fill="#262626" font-weight="normal">B</text><text x="0" y="0" transform="translate(34 128.5) rotate(-90)" font-size="8.6" text-anchor="middle" dominant-baseline="central" fill="#262626" font-weight="normal">O</text><text x="0" y="0" transform="translate(47.3 128.4) rotate(-90)" font-size="8.6" text-anchor="middle" dominant-baseline="central" fill="#262626" font-weight="normal">P</text><text x="0" y="0" transform="translate(91.2 128.6) rotate(-90)" font-size="8.0" text-anchor="middle" dominant-baseline="central" fill="#262626" font-weight="normal">d</text><text x="0" y="0" transform="translate(103.6 128) rotate(-90)" font-size="8.6" text-anchor="middle" dominant-baseline="central" fill="#262626" font-weight="normal">N</text><text x="72.2" y="176.5" font-size="8.6" text-anchor="middle" dominant-baseline="central" fill="#262626" font-weight="normal">L</text><text x="212.3" y="64.6" font-size="8.6" text-anchor="middle" dominant-baseline="central" fill="#262626" font-weight="normal">B</text><text x="0" y="0" transform="translate(166 128.6) rotate(-90)" font-size="8.6" text-anchor="middle" dominant-baseline="central" fill="#262626" font-weight="normal">O</text><text x="0" y="0" transform="translate(178.9 128.2) rotate(-90)" font-size="8.6" text-anchor="middle" dominant-baseline="central" fill="#262626" font-weight="normal">P</text><text x="0" y="0" transform="translate(239.4 129) rotate(-90)" font-size="8.0" text-anchor="middle" dominant-baseline="central" fill="#262626" font-weight="normal">d</text><text x="219.5" y="197.6" font-size="8.6" text-anchor="middle" dominant-baseline="central" fill="#262626" font-weight="normal">L</text><text x="335.5" y="59.6" font-size="8.6" text-anchor="middle" dominant-baseline="central" fill="#262626" font-weight="normal">B</text><text x="0" y="0" transform="translate(281 128.2) rotate(-90)" font-size="8.6" text-anchor="middle" dominant-baseline="central" fill="#262626" font-weight="normal">O</text><text x="0" y="0" transform="translate(292.7 128.5) rotate(-90)" font-size="8.6" text-anchor="middle" dominant-baseline="central" fill="#262626" font-weight="normal">P</text><text x="0" y="0" transform="translate(409.2 128.2) rotate(-90)" font-size="8.6" text-anchor="middle" dominant-baseline="central" fill="#262626" font-weight="normal">D</text><text x="0" y="0" transform="translate(394.9 128.2) rotate(-90)" font-size="8.6" text-anchor="middle" dominant-baseline="central" fill="#262626" font-weight="normal">N</text><text x="0" y="0" transform="translate(382.2 128) rotate(-90)" font-size="8.0" text-anchor="middle" dominant-baseline="central" fill="#262626" font-weight="normal">d</text><text x="334.6" y="196.2" font-size="8.6" text-anchor="middle" dominant-baseline="central" fill="#262626" font-weight="normal">L</text><text x="506.2" y="34.6" font-size="8.6" text-anchor="middle" dominant-baseline="central" fill="#262626" font-weight="normal">B</text><text x="0" y="0" transform="translate(452.2 128.6) rotate(-90)" font-size="8.6" text-anchor="middle" dominant-baseline="central" fill="#262626" font-weight="normal">O</text><text x="0" y="0" transform="translate(463.6 128.2) rotate(-90)" font-size="8.6" text-anchor="middle" dominant-baseline="central" fill="#262626" font-weight="normal">P</text><text x="0" y="0" transform="translate(577 129) rotate(-90)" font-size="8.6" text-anchor="middle" dominant-baseline="central" fill="#262626" font-weight="normal">D</text><text x="0" y="0" transform="translate(561.6 128.5) rotate(-90)" font-size="8.6" text-anchor="middle" dominant-baseline="central" fill="#262626" font-weight="normal">N</text><text x="0" y="0" transform="translate(542.2 129.1) rotate(-90)" font-size="8.0" text-anchor="middle" dominant-baseline="central" fill="#262626" font-weight="normal">d</text><text x="506.2" y="229.6" font-size="8.6" text-anchor="middle" dominant-baseline="central" fill="#262626" font-weight="normal">L</text><text x="72.8" y="266.2" font-size="8.6" text-anchor="middle" dominant-baseline="central" fill="#262626" font-weight="normal">B</text><text x="0" y="0" transform="translate(15.2 359.6) rotate(-90)" font-size="8.6" text-anchor="middle" dominant-baseline="central" fill="#262626" font-weight="normal">O</text><text x="0" y="0" transform="translate(30.3 359.6) rotate(-90)" font-size="8.6" text-anchor="middle" dominant-baseline="central" fill="#262626" font-weight="normal">P</text><text x="0" y="0" transform="translate(146.5 359.6) rotate(-90)" font-size="8.6" text-anchor="middle" dominant-baseline="central" fill="#262626" font-weight="normal">D</text><text x="0" y="0" transform="translate(133.6 359.4) rotate(-90)" font-size="8.6" text-anchor="middle" dominant-baseline="central" fill="#262626" font-weight="normal">N</text><text x="0" y="0" transform="translate(121.3 360) rotate(-90)" font-size="8.0" text-anchor="middle" dominant-baseline="central" fill="#262626" font-weight="normal">d</text><text x="81.5" y="460" font-size="8.6" text-anchor="middle" dominant-baseline="central" fill="#262626" font-weight="normal">L</text><text x="243.4" y="266.2" font-size="8.6" text-anchor="middle" dominant-baseline="central" fill="#262626" font-weight="normal">B</text><text x="0" y="0" transform="translate(186.2 359.6) rotate(-90)" font-size="8.6" text-anchor="middle" dominant-baseline="central" fill="#262626" font-weight="normal">O</text><text x="0" y="0" transform="translate(200.7 359.6) rotate(-90)" font-size="8.6" text-anchor="middle" dominant-baseline="central" fill="#262626" font-weight="normal">P</text><text x="0" y="0" transform="translate(310 359.4) rotate(-90)" font-size="8.6" text-anchor="middle" dominant-baseline="central" fill="#262626" font-weight="normal">D</text><text x="0" y="0" transform="translate(294.3 359.4) rotate(-90)" font-size="8.6" text-anchor="middle" dominant-baseline="central" fill="#262626" font-weight="normal">N</text><text x="0" y="0" transform="translate(277.8 359.8) rotate(-90)" font-size="8.0" text-anchor="middle" dominant-baseline="central" fill="#262626" font-weight="normal">d</text><text x="243" y="459.7" font-size="8.6" text-anchor="middle" dominant-baseline="central" fill="#262626" font-weight="normal">L</text><text x="390.3" y="313.2" font-size="8.6" text-anchor="middle" dominant-baseline="central" fill="#262626" font-weight="normal">B</text><text x="0" y="0" transform="translate(338.1 359.9) rotate(-90)" font-size="8.6" text-anchor="middle" dominant-baseline="central" fill="#262626" font-weight="normal">O</text><text x="0" y="0" transform="translate(350.7 359.6) rotate(-90)" font-size="8.6" text-anchor="middle" dominant-baseline="central" fill="#262626" font-weight="normal">P</text><text x="0" y="0" transform="translate(429.6 362.6) rotate(-90)" font-size="8.0" text-anchor="middle" dominant-baseline="central" fill="#262626" font-weight="normal">d</text><text x="516.3" y="266.2" font-size="8.6" text-anchor="middle" dominant-baseline="central" fill="#262626" font-weight="normal">B</text><text x="0" y="0" transform="translate(461.4 359.6) rotate(-90)" font-size="8.6" text-anchor="middle" dominant-baseline="central" fill="#262626" font-weight="normal">O</text><text x="0" y="0" transform="translate(473 359.4) rotate(-90)" font-size="8.6" text-anchor="middle" dominant-baseline="central" fill="#262626" font-weight="normal">P</text><text x="0" y="0" transform="translate(577.8 359.5) rotate(-90)" font-size="8.6" text-anchor="middle" dominant-baseline="central" fill="#262626" font-weight="normal">D</text><text x="0" y="0" transform="translate(564.2 359.5) rotate(-90)" font-size="8.6" text-anchor="middle" dominant-baseline="central" fill="#262626" font-weight="normal">N</text><text x="0" y="0" transform="translate(550 360.4) rotate(-90)" font-size="8.0" text-anchor="middle" dominant-baseline="central" fill="#262626" font-weight="normal">d</text></g>
<g filter="url(#sh)"><text x="0" y="0" transform="translate(411.6 448.8) scale(0.945 1)" font-size="25.5" font-weight="bold" fill="#fff" fill-opacity="0.95" stroke="#fff" stroke-opacity="0.75" stroke-width="1.4" stroke-linejoin="round" paint-order="stroke" letter-spacing="0">Sprzedajemy</text></g>
<circle cx="569.2" cy="429.7" r="10.4" fill="#d8413d"/>
<text x="568.6" y="434" font-size="11.5" font-weight="bold" fill="#fff" text-anchor="middle">.pl</text>
</svg>
</body></html>
